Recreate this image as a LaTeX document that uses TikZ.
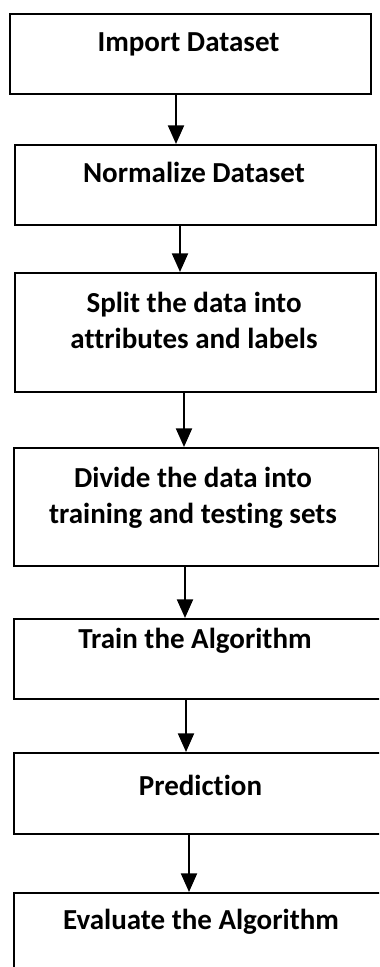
\documentclass[tikz,border=0pt]{standalone}
\usepackage{fontspec}
\setmainfont{Carlito}[RawFeature={-liga}]
\usetikzlibrary{arrows.meta}
\begin{document}
\begin{tikzpicture}[x=0.75pt,y=-0.75pt,
  box/.style={draw=black,line width=1.5pt,rectangle,inner sep=0pt,anchor=north west},
  lbl/.style={anchor=base,inner sep=0pt,align=center,font=\bfseries\fontsize{21.75}{27}\selectfont},
  arr/.style={line width=1.5pt,-{Triangle[length=14pt,width=12pt]}}]
\useasboundingbox (0,0) rectangle (379,967);
\clip (0,0) rectangle (379,967);
\fill[white] (0,0) rectangle (379,967);
% boxes
\node[box,minimum width=361*0.75pt,minimum height=80*0.75pt]  (b1) at (9,13) {};
\node[box,minimum width=361*0.75pt,minimum height=80*0.75pt]  (b2) at (14,144) {};
\node[box,minimum width=361*0.75pt,minimum height=119*0.75pt] (b3) at (14,272) {};
\node[box,minimum width=365*0.75pt,minimum height=118*0.75pt] (b4) at (13,447) {};
\node[box,minimum width=385*0.75pt,minimum height=80*0.75pt]  (b5) at (13,618) {};
\node[box,minimum width=385*0.75pt,minimum height=81*0.75pt]  (b6) at (13,752) {};
\node[box,minimum width=385*0.75pt,minimum height=120*0.75pt] (b7) at (13,892) {};
% labels
\node[lbl] (t1) at (188.5,51) {Import Dataset};
\node[lbl] (t2) at (194,182) {Normalize Dataset};
\node[lbl] (t3) at (194,348) {Split the data into\\attributes and labels};
\node[lbl] (t4) at (193,523) {Divide the data into\\training and testing sets};
\node[lbl] (t5) at (195,648) {Train the Algorithm};
\node[lbl] (t6) at (200.5,795) {Prediction};
\node[lbl] (t7) at (201,929) {Evaluate the Algorithm};
% arrows
\draw[arr] (176,0 |- b1.south) -- (176,0 |- b2.north);
\draw[arr] (180,0 |- b2.south) -- (180,0 |- b3.north);
\draw[arr] (184,0 |- b3.south) -- (184,0 |- b4.north);
\draw[arr] (185,0 |- b4.south) -- (185,0 |- b5.north);
\draw[arr] (186,0 |- b5.south) -- (186,0 |- b6.north);
\draw[arr] (189,0 |- b6.south) -- (189,0 |- b7.north);
\end{tikzpicture}
\end{document}
